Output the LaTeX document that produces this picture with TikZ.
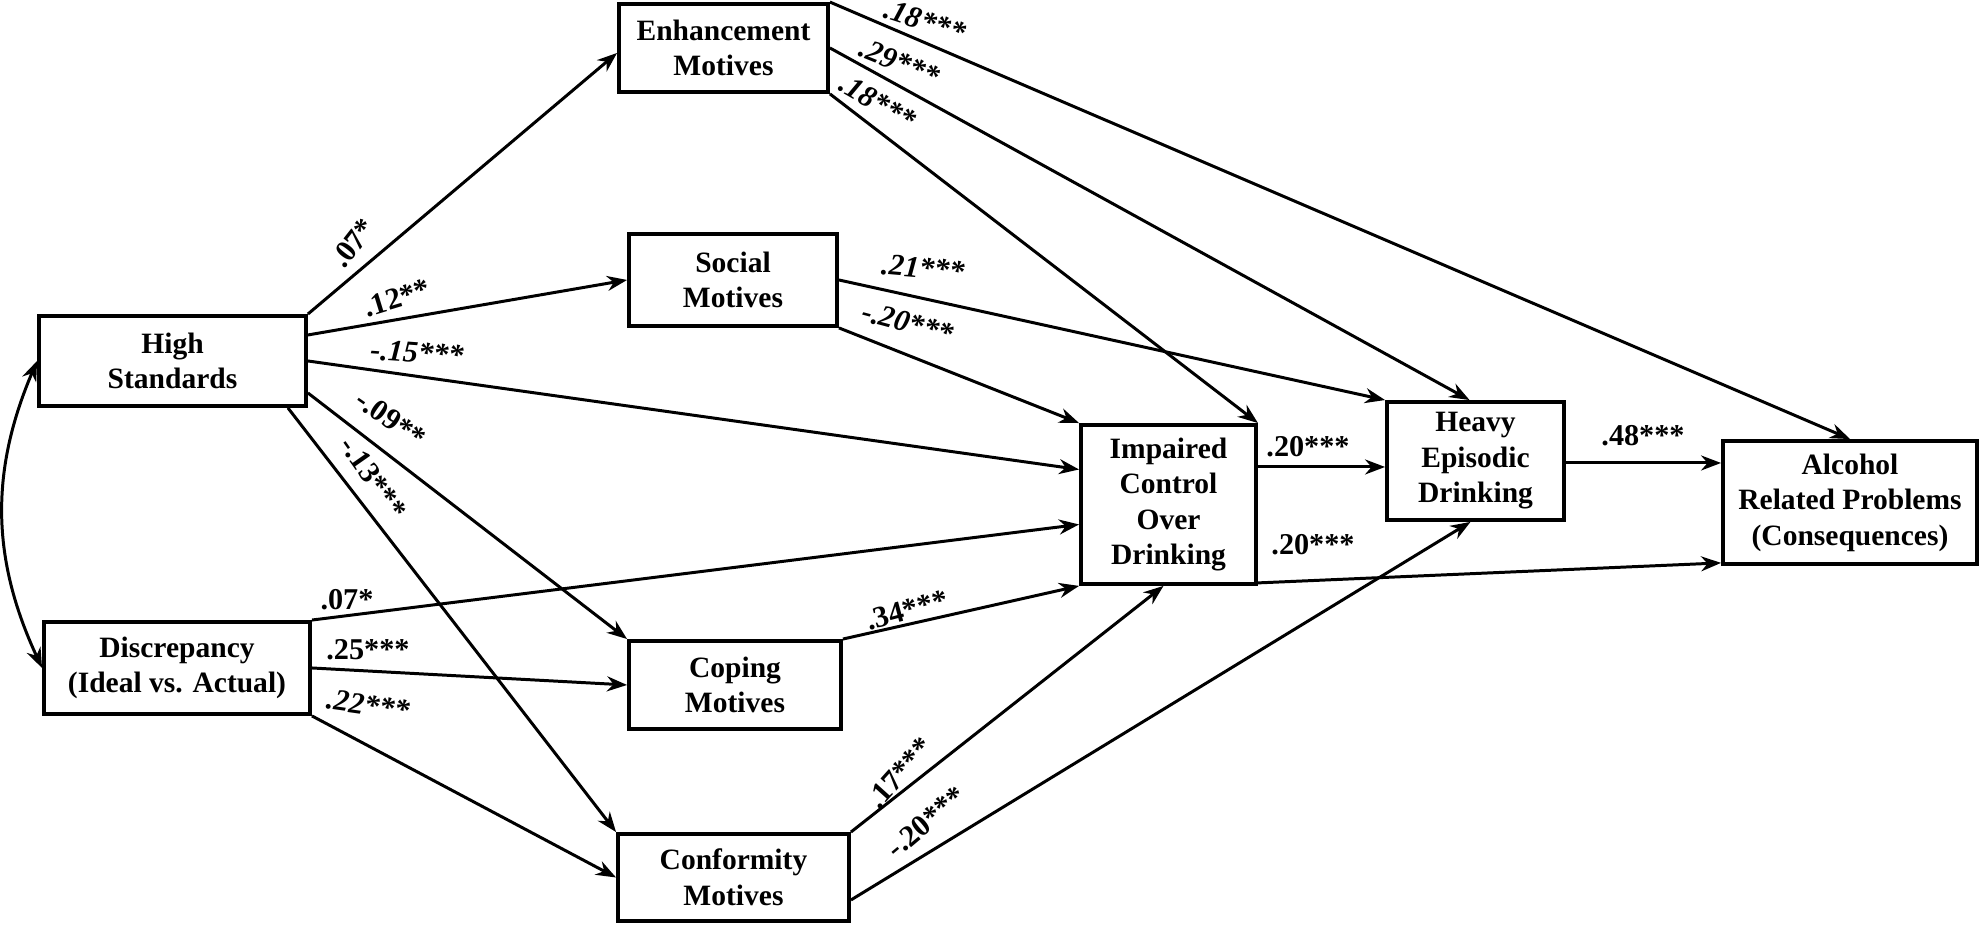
\documentclass[tikz,border=0pt]{standalone}
\usepackage{fontspec}
\setmainfont{Liberation Serif}
\usepackage{tikz}
\usetikzlibrary{arrows.meta,positioning}

\begin{document}
\begin{tikzpicture}[
  x=1.0cm, y=1.0cm,
  >={Stealth[length=2.0mm,width=1.5mm]},
  var/.style={draw, line width=1.1pt, align=center, inner sep=0.8mm, font=\fontsize{8.4}{10.1}\selectfont\bfseries},
  edge/.style={->, line width=0.85pt},
  lbl/.style={inner sep=0pt, font=\fontsize{8.6}{10}\selectfont\bfseries},
  lbli/.style={inner sep=0pt, font=\fontsize{8.6}{10}\selectfont\bfseries\itshape}
]
\useasboundingbox (0,0) rectangle (19.82,9.25);

% predictors
\node[var, minimum width=26.7mm, minimum height=9.0mm] (hs) at (1.725,5.64) {High\\Standards};
\node[var, minimum width=26.6mm, minimum height=9.2mm] (dis) at (1.77,2.57) {Discrepancy\\(Ideal vs. Actual)};

% motives
\node[var, minimum width=20.9mm, minimum height=8.8mm] (enh) at (7.235,8.77) {Enhancement\\Motives};
\node[var, minimum width=20.8mm, minimum height=9.2mm] (soc) at (7.33,6.45) {Social\\Motives};
\node[var, minimum width=21.2mm, minimum height=8.8mm] (cop) at (7.35,2.40) {Coping\\Motives};
\node[var, minimum width=23.1mm, minimum height=8.7mm] (con) at (7.335,0.475) {Conformity\\Motives};

% outcomes
\node[var, minimum width=17.5mm, minimum height=15.9mm] (icd) at (11.685,4.205) {Impaired\\Control\\Over\\Drinking};
\node[var, minimum width=17.7mm, minimum height=11.8mm] (hed) at (14.755,4.64) {Heavy\\Episodic\\Drinking};
\node[var, minimum width=25.4mm, minimum height=12.3mm] (arp) at (18.50,4.225) {Alcohol\\Related Problems\\(Consequences)};

% paths
\draw[edge] (hs.north east) -- ([yshift=-0.5mm]enh.west);
\draw[edge] ([yshift=2.6mm]hs.east) -- (soc.west);
\draw[edge] (hs.east) -- ([yshift=3.5mm]icd.west);
\draw[edge] ([yshift=-3.2mm]hs.east) -- (cop.north west);
\draw[edge] ([xshift=-2mm]hs.south east) -- (con.north west);
\draw[edge] (dis.north east) -- ([yshift=-2mm]icd.west);
\draw[edge] (dis.east) -- (cop.west);
\draw[edge] (dis.south east) -- (con.west);
\draw[edge] (enh.north east) -- (arp.north);
\draw[edge] (enh.east) -- ([xshift=-0.6mm]hed.north);
\draw[edge] (enh.south east) -- (icd.north east);
\draw[edge] (soc.east) -- (hed.north west);
\draw[edge] (soc.south east) -- (icd.north west);
\draw[edge] (cop.north east) -- (icd.south west);
\draw[edge] (con.north east) -- ([xshift=-0.5mm]icd.south);
\draw[edge] ([yshift=-2.25mm]con.east) -- ([xshift=-0.5mm]hed.south);
\draw[edge] ([yshift=3.75mm]icd.east) -- ([yshift=3.75mm]icd.east -| hed.west);
\draw[edge] ([yshift=0.3mm]icd.south east) -- ([yshift=0.3mm]arp.south west);
\draw[edge] ([yshift=-0.2mm]hed.east) -- ([yshift=-0.2mm]hed.east -| arp.west);
\draw[edge, <->] (hs.west) to[bend right=24] (dis.west);

% coefficients
\node[lbl, rotate=52] (c-hs-enh) at (3.53,6.82) {.07*};
\node[lbl, rotate=17] (c-hs-soc) at (3.97,6.27) {.12**};
\node[lbli, rotate=-4] (c-hs-icd) at (4.17,5.72) {-.15***};
\node[lbl, rotate=-35] (c-hs-cop) at (3.91,5.06) {-.09**};
\node[lbl, rotate=-55] (c-hs-con) at (3.73,4.47) {-.13***};
\node[lbl] (c-dis-icd) at (3.47,3.25) {.07*};
\node[lbl] (c-dis-cop) at (3.68,2.75) {.25***};
\node[lbli, rotate=-8] (c-dis-con) at (3.68,2.20) {.22***};
\node[lbli, rotate=-18] (c-enh-arp) at (9.25,9.04) {.18***};
\node[lbli, rotate=-22] (c-enh-hed) at (9.00,8.63) {.29***};
\node[lbli, rotate=-30] (c-enh-icd) at (8.78,8.23) {.18***};
\node[lbli, rotate=-5] (c-soc-hed) at (9.23,6.57) {.21***};
\node[lbli, rotate=-15] (c-soc-icd) at (9.08,6.02) {-.20***};
\node[lbl, rotate=15] (c-cop-icd) at (9.07,3.15) {.34***};
\node[lbl, rotate=48] (c-con-icd) at (9.00,1.52) {.17***};
\node[lbl, rotate=40] (c-con-hed) at (9.26,1.03) {-.20***};
\node[lbl] (c-icd-hed) at (13.08,4.78) {.20***};
\node[lbl] (c-icd-arp) at (13.13,3.80) {.20***};
\node[lbl] (c-hed-arp) at (16.43,4.89) {.48***};
\end{tikzpicture}
\end{document}
